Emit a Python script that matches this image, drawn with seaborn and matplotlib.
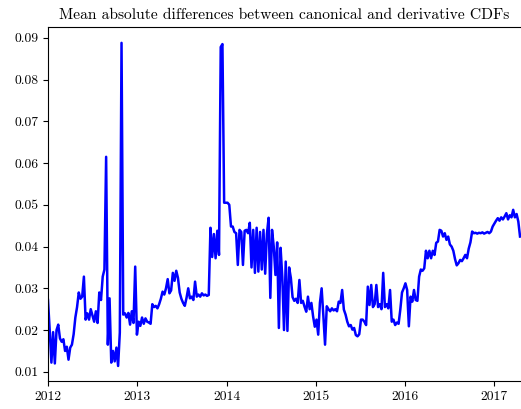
import matplotlib
matplotlib.use("Agg")
import matplotlib.pyplot as plt
import matplotlib.dates as mdates
import numpy as np
import pandas as pd
import seaborn as sns

# Weekly mean absolute difference between canonical and derivative CDFs
start_date = "2012-01-01"
mad_values = [
    0.0272, 0.0200, 0.0122, 0.0195, 0.0120, 0.0200, 0.0213, 0.0180, 0.0172, 0.0178,
    0.0150, 0.0160, 0.0129, 0.0158, 0.0165, 0.0190, 0.0230, 0.0255, 0.0290, 0.0275,
    0.0280, 0.0328, 0.0225, 0.0240, 0.0225, 0.0250, 0.0235, 0.0220, 0.0245, 0.0217,
    0.0290, 0.0272, 0.0328, 0.0345, 0.0615, 0.0165, 0.0276, 0.0122, 0.0150, 0.0125,
    0.0158, 0.0114, 0.0194, 0.0888, 0.0237, 0.0240, 0.0230, 0.0241, 0.0213, 0.0245,
    0.0217, 0.0352, 0.0189, 0.0220, 0.0210, 0.0230, 0.0215, 0.0228, 0.0220, 0.0218,
    0.0215, 0.0262, 0.0255, 0.0258, 0.0252, 0.0262, 0.0275, 0.0292, 0.0285, 0.0300,
    0.0322, 0.0288, 0.0295, 0.0337, 0.0318, 0.0342, 0.0325, 0.0290, 0.0275, 0.0265,
    0.0258, 0.0277, 0.0300, 0.0276, 0.0280, 0.0272, 0.0316, 0.0280, 0.0285, 0.0280,
    0.0288, 0.0283, 0.0285, 0.0282, 0.0284, 0.0445, 0.0375, 0.0430, 0.0372, 0.0438,
    0.0380, 0.0878, 0.0885, 0.0505, 0.0505, 0.0505, 0.0500, 0.0448, 0.0448, 0.0435,
    0.0432, 0.0356, 0.0440, 0.0435, 0.0356, 0.0438, 0.0440, 0.0432, 0.0457, 0.0350,
    0.0440, 0.0337, 0.0445, 0.0340, 0.0435, 0.0345, 0.0440, 0.0335, 0.0430, 0.0469,
    0.0277, 0.0440, 0.0400, 0.0332, 0.0410, 0.0205, 0.0397, 0.0327, 0.0200, 0.0364,
    0.0198, 0.0350, 0.0325, 0.0279, 0.0270, 0.0275, 0.0265, 0.0320, 0.0265, 0.0270,
    0.0256, 0.0244, 0.0280, 0.0250, 0.0265, 0.0233, 0.0208, 0.0225, 0.0189, 0.0265,
    0.0300, 0.0235, 0.0165, 0.0257, 0.0250, 0.0245, 0.0252, 0.0247, 0.0250, 0.0245,
    0.0268, 0.0265, 0.0296, 0.0249, 0.0237, 0.0220, 0.0209, 0.0212, 0.0201, 0.0205,
    0.0188, 0.0185, 0.0190, 0.0225, 0.0225, 0.0220, 0.0212, 0.0304, 0.0260, 0.0308,
    0.0255, 0.0262, 0.0308, 0.0255, 0.0262, 0.0250, 0.0337, 0.0255, 0.0262, 0.0252,
    0.0296, 0.0220, 0.0225, 0.0212, 0.0218, 0.0215, 0.0249, 0.0290, 0.0300, 0.0312,
    0.0296, 0.0209, 0.0280, 0.0268, 0.0296, 0.0272, 0.0270, 0.0328, 0.0345, 0.0342,
    0.0348, 0.0390, 0.0372, 0.0390, 0.0372, 0.0390, 0.0380, 0.0409, 0.0412, 0.0440,
    0.0438, 0.0424, 0.0432, 0.0416, 0.0424, 0.0405, 0.0400, 0.0390, 0.0370, 0.0355,
    0.0360, 0.0368, 0.0365, 0.0372, 0.0380, 0.0372, 0.0395, 0.0410, 0.0436, 0.0432,
    0.0433, 0.0431, 0.0433, 0.0432, 0.0434, 0.0431, 0.0433, 0.0435, 0.0432, 0.0436,
    0.0448, 0.0455, 0.0462, 0.0468, 0.0462, 0.0470, 0.0465, 0.0472, 0.0480, 0.0465,
    0.0475, 0.0470, 0.0488, 0.0470, 0.0478, 0.0460, 0.0424,
]
y_ticks = [0.01, 0.02, 0.03, 0.04, 0.05, 0.06, 0.07, 0.08, 0.09]
title = "Mean absolute differences between canonical and derivative CDFs"

dates = pd.date_range(start_date, periods=len(mad_values), freq="7D")
df = pd.DataFrame({"date": dates, "mad": mad_values})

plt.rcParams["font.family"] = ["cmr10", "DejaVu Serif"]
plt.rcParams["axes.formatter.use_mathtext"] = True

fig = plt.figure(figsize=(5.21, 4.09), dpi=100)
ax = fig.add_axes([0.0921, 0.0685, 0.9079, 0.8655])

sns.lineplot(data=df, x="date", y="mad", color="#0000ff", linewidth=1.8, ax=ax)

ax.set_xlim(pd.Timestamp("2012-01-01"), pd.Timestamp("2017-04-20"))
ax.set_ylim(0.0078, 0.0926)
ax.set_yticks(y_ticks)
ax.set_yticklabels([f"{t:.2f}" for t in y_ticks])
ax.xaxis.set_major_locator(mdates.YearLocator())
ax.xaxis.set_major_formatter(mdates.DateFormatter("%Y"))
ax.tick_params(labelsize=9.8)
ax.set_xlabel("")
ax.set_ylabel("")
ax.spines["right"].set_visible(False)
ax.set_title(title, fontsize=11.2)

fig.savefig("out.png", dpi=100)
